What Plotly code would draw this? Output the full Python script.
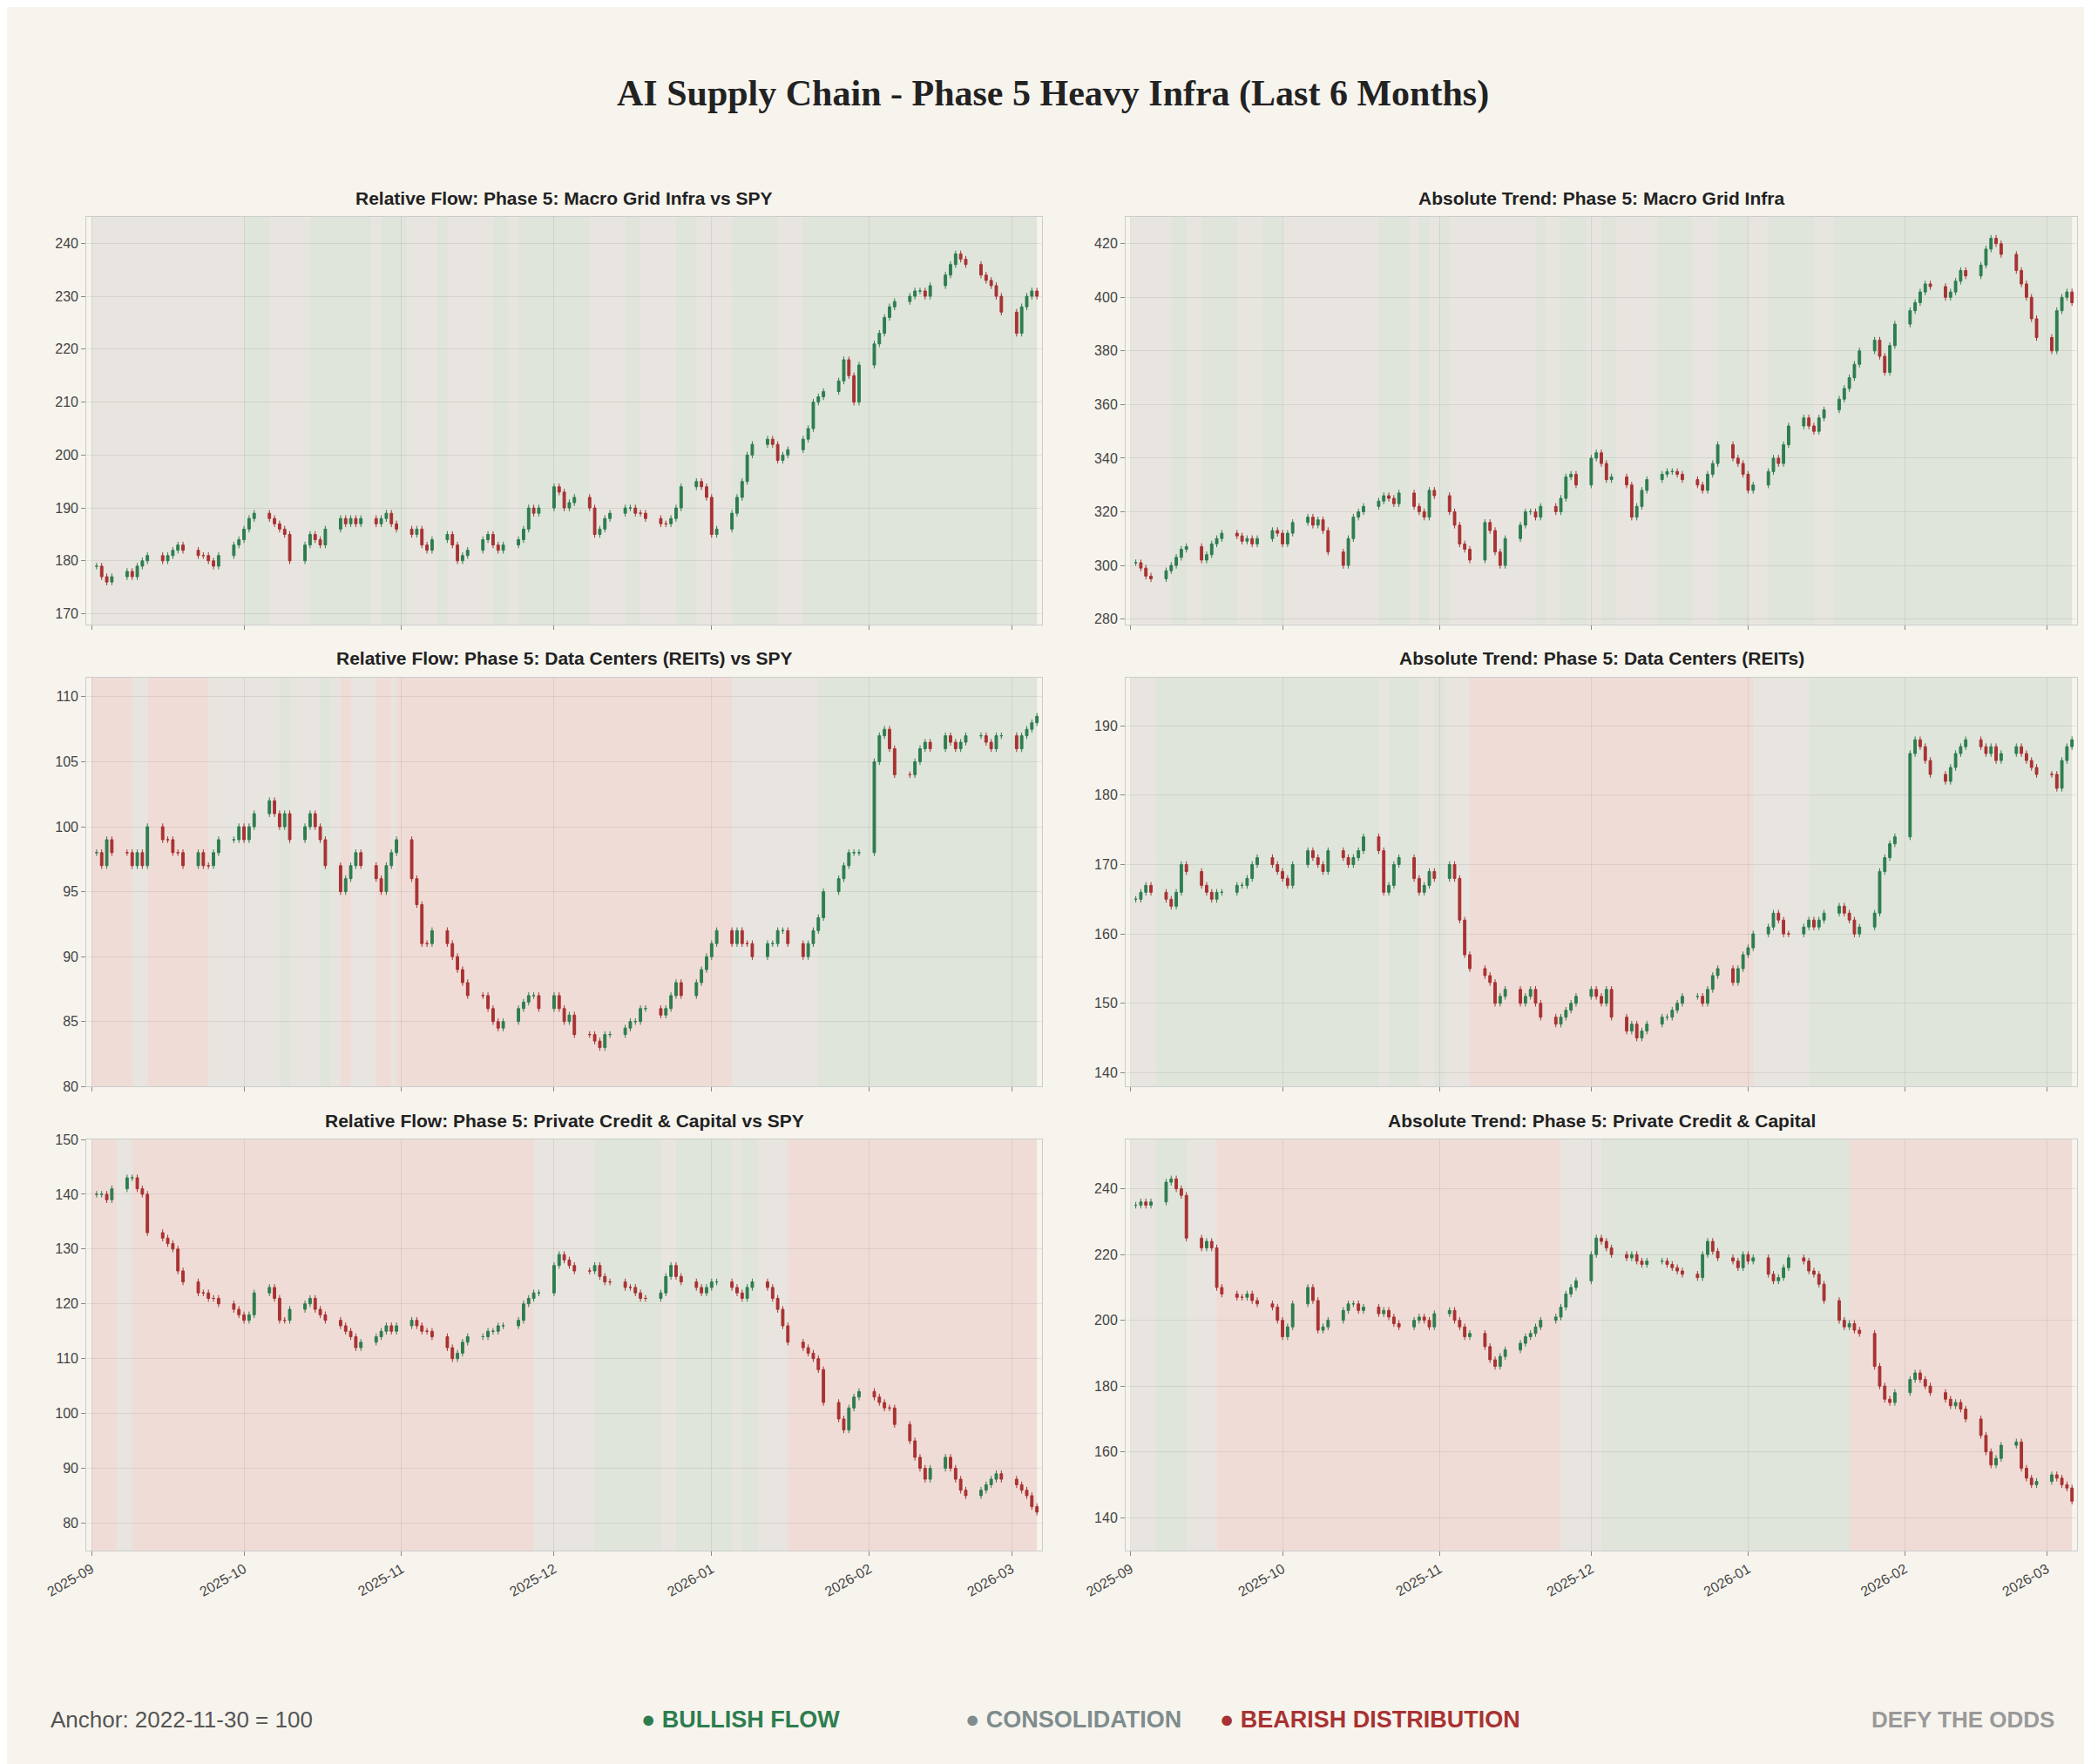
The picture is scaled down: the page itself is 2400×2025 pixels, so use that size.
import pandas as pd
import plotly.graph_objects as go

# daily closes (business days from 2025-09-02)
grid_rel = [179, 177, 176, 177, 178, 177, 179, 180, 181, 180, 181, 182, 183, 182, 181, 181, 180, 179, 181, 183, 184,
            186, 188, 189, 188, 187, 186, 185, 180, 183, 185, 184, 183, 186, 188, 187, 188, 187, 188, 187, 188, 189, 187, 186,
            185, 186, 183, 182, 184, 185, 183, 180, 181, 182, 184, 185, 183, 182, 183, 184, 186, 190, 189, 190,
            194, 193, 190, 191, 192, 190, 185, 186, 188, 189, 190, 190, 189, 189, 188, 187, 187, 188, 190, 194, 195, 194, 192,
            185, 186, 189, 192, 195, 200, 202, 203, 202, 199, 200, 201, 203, 205, 210, 211, 212, 214, 218, 215, 210, 217,
            221, 223, 226, 228, 229, 230, 231, 231, 230, 232, 234, 236, 238, 237, 236, 234, 233, 232, 230, 227,
            223, 228, 230, 231, 230]
grid_abs = [301, 299, 296, 295, 298, 300, 303, 306, 307, 302, 304, 308, 310, 312, 311, 309, 310, 308, 310, 313, 312,
            308, 312, 316, 318, 315, 317, 313, 305, 300, 310, 318, 320, 322, 324, 326, 325, 323, 327, 322, 320, 318, 328, 326,
            320, 315, 308, 306, 302, 316, 313, 305, 300, 310, 315, 320, 320, 318, 322, 320, 325, 333, 334, 330,
            340, 342, 338, 332, 333, 330, 318, 322, 328, 332, 334, 335, 335, 334, 332, 330, 328, 334, 338, 345, 340, 338, 334,
            328, 330, 335, 340, 338, 345, 352, 355, 352, 350, 355, 358, 362, 366, 370, 375, 380, 384, 378, 372, 382, 390,
            395, 398, 402, 405, 404, 400, 402, 406, 410, 408, 412, 418, 422, 420, 416, 410, 405, 400, 392, 385,
            380, 395, 400, 402, 398]
dc_rel = [98, 97, 99, 98, 98, 97, 98, 97, 100, 99, 99, 98, 98, 97, 98, 97, 97, 98, 99, 99, 100,
          99, 100, 101, 102, 101, 100, 101, 99, 100, 101, 100, 99, 97, 95, 96, 97, 98, 97, 96, 95, 97, 98, 99,
          96, 94, 91, 91, 92, 91, 90, 89, 88, 87, 87, 86, 85, 84.5, 85, 86, 86.5, 87, 87, 86,
          87, 86, 85, 85.5, 84, 84, 83.5, 83, 84, 84, 84.5, 85, 85, 86, 86, 85.5, 86, 87, 88, 87, 88, 89, 90,
          91, 92, 91, 92, 91, 91, 90, 91, 91, 92, 92, 91, 90, 91, 92, 93, 95, 96, 97, 98, 98, 98,
          105, 107, 107.5, 106, 104, 104, 105, 106, 106.5, 106, 107, 106.5, 106, 106.5, 107, 107, 106.5, 106, 107, 107,
          106, 107, 107.5, 108, 108.5]
dc_abs = [165, 166, 167, 166, 165, 164, 166, 170, 169, 167, 166, 165, 166, 166, 167, 167, 168, 170, 171, 170, 169,
          168, 167, 170, 172, 171, 170, 169, 172, 171, 170, 171, 172, 174, 172, 166, 167, 170, 171, 168, 166, 167, 169, 168,
          170, 168, 162, 157, 155, 154, 153, 150, 151, 152, 150, 151, 152, 150, 148, 147, 148, 149, 150, 151,
          152, 151, 150, 152, 148, 146, 147, 145, 146, 147, 148, 148, 149, 150, 151, 151, 150, 152, 154, 155, 153, 155, 157,
          158, 160, 161, 163, 162, 160, 160, 161, 162, 161, 162, 163, 164, 163, 162, 160, 161, 163, 169, 171, 173, 174,
          186, 188, 187, 185, 183, 182, 184, 186, 187, 188, 187, 186, 187, 185, 186, 187, 186, 185, 184, 183,
          183, 181, 185, 187, 188]
pc_rel = [140, 140, 139, 141, 143, 143, 141, 140, 133, 132, 131, 130, 126, 124, 122, 122, 121, 121, 120, 119, 118,
          117, 118, 122, 123, 121, 117, 117, 119, 120, 121, 119, 118, 117, 116, 115, 114, 112, 113, 114, 115, 116, 115, 116,
          117, 116, 115, 115, 114, 112, 110, 111, 113, 114, 114, 115, 115, 116, 116, 117, 120, 121, 122, 122,
          127, 129, 128, 127, 126, 126, 127, 125, 124, 124, 123, 123, 122, 121, 121, 122, 125, 127, 125, 124, 123, 122, 123,
          124, 124, 123, 122, 121, 123, 124, 123, 121, 119, 116, 113, 112, 111, 110, 108, 102, 99, 97, 101, 103, 104,
          103, 102, 101, 101, 98, 95, 92, 90, 88, 90, 92, 90, 88, 86, 85, 86, 87, 88, 89, 88,
          87, 86, 85, 83, 82]
pc_abs = [235, 236, 235, 236, 242, 243, 240, 238, 225, 222, 224, 222, 210, 208, 207, 207, 208, 206, 205, 204, 200,
          195, 198, 205, 210, 206, 197, 198, 200, 203, 205, 205, 203, 204, 202, 203, 201, 199, 198, 200, 201, 200, 198, 202,
          203, 200, 198, 195, 196, 192, 188, 186, 189, 191, 193, 195, 196, 198, 200, 201, 204, 208, 210, 212,
          220, 225, 224, 222, 220, 219, 220, 218, 217, 218, 218, 217, 216, 215, 214, 213, 220, 224, 221, 219, 218, 216, 220,
          218, 219, 214, 212, 213, 216, 219, 218, 215, 214, 211, 206, 200, 198, 199, 197, 196, 186, 180, 176, 175, 178,
          182, 184, 182, 180, 178, 176, 174, 175, 173, 170, 165, 160, 156, 158, 162, 163, 155, 152, 150, 151,
          153, 152, 150, 149, 145]

# regime segments: b = bullish, c = consolidation, r = bearish
reg_grid_rel = [("2025-09-01", "2025-10-01", "c"), ("2025-10-01", "2025-10-06", "b"), ("2025-10-06", "2025-10-14", "c"),
                ("2025-10-14", "2025-10-26", "b"), ("2025-10-26", "2025-10-28", "c"), ("2025-10-28", "2025-11-02", "b"),
                ("2025-11-02", "2025-11-08", "c"), ("2025-11-08", "2025-11-10", "b"), ("2025-11-10", "2025-11-19", "c"),
                ("2025-11-19", "2025-11-22", "b"), ("2025-11-22", "2025-11-24", "c"), ("2025-11-24", "2025-12-08", "b"),
                ("2025-12-08", "2025-12-15", "c"), ("2025-12-15", "2025-12-18", "b"), ("2025-12-18", "2025-12-25", "c"),
                ("2025-12-25", "2025-12-29", "b"), ("2025-12-29", "2026-01-05", "c"), ("2026-01-05", "2026-01-14", "b"),
                ("2026-01-14", "2026-01-19", "c"), ("2026-01-19", "2026-03-06", "b")]
reg_grid_abs = [("2025-09-01", "2025-09-09", "c"), ("2025-09-09", "2025-09-12", "b"), ("2025-09-12", "2025-09-15", "c"),
                ("2025-09-15", "2025-09-22", "b"), ("2025-09-22", "2025-09-27", "c"), ("2025-09-27", "2025-10-01", "b"),
                ("2025-10-01", "2025-10-20", "c"), ("2025-10-20", "2025-10-26", "b"), ("2025-10-26", "2025-10-28", "c"),
                ("2025-10-28", "2025-10-30", "b"), ("2025-10-30", "2025-11-01", "c"), ("2025-11-01", "2025-11-03", "b"),
                ("2025-11-03", "2025-11-20", "c"), ("2025-11-20", "2025-11-22", "b"), ("2025-11-22", "2025-11-25", "c"),
                ("2025-11-25", "2025-11-30", "b"), ("2025-11-30", "2025-12-03", "c"), ("2025-12-03", "2025-12-06", "b"),
                ("2025-12-06", "2025-12-14", "c"), ("2025-12-14", "2025-12-21", "b"), ("2025-12-21", "2025-12-26", "c"),
                ("2025-12-26", "2026-01-01", "b"), ("2026-01-01", "2026-01-05", "c"), ("2026-01-05", "2026-01-14", "b"),
                ("2026-01-14", "2026-01-18", "c"), ("2026-01-18", "2026-03-06", "b")]
reg_dc_rel = [("2025-09-01", "2025-09-09", "r"), ("2025-09-09", "2025-09-12", "c"), ("2025-09-12", "2025-09-24", "r"),
              ("2025-09-24", "2025-10-08", "c"), ("2025-10-08", "2025-10-10", "b"), ("2025-10-10", "2025-10-16", "c"),
              ("2025-10-16", "2025-10-18", "b"), ("2025-10-18", "2025-10-20", "c"), ("2025-10-20", "2025-10-22", "r"),
              ("2025-10-22", "2025-10-27", "c"), ("2025-10-27", "2025-10-30", "r"), ("2025-10-30", "2025-10-31", "c"),
              ("2025-10-31", "2026-01-05", "r"), ("2026-01-05", "2026-01-22", "c"), ("2026-01-22", "2026-03-06", "b")]
reg_dc_abs = [("2025-09-01", "2025-09-06", "c"), ("2025-09-06", "2025-10-20", "b"), ("2025-10-20", "2025-10-22", "c"),
              ("2025-10-22", "2025-10-28", "b"), ("2025-10-28", "2025-10-31", "c"), ("2025-10-31", "2025-11-02", "b"),
              ("2025-11-02", "2025-11-07", "c"), ("2025-11-07", "2026-01-02", "r"), ("2026-01-02", "2026-01-13", "c"),
              ("2026-01-13", "2026-03-06", "b")]
reg_pc_rel = [("2025-09-01", "2025-09-06", "r"), ("2025-09-06", "2025-09-09", "c"), ("2025-09-09", "2025-11-27", "r"),
              ("2025-11-27", "2025-12-09", "c"), ("2025-12-09", "2025-12-22", "b"), ("2025-12-22", "2025-12-25", "c"),
              ("2025-12-25", "2026-01-05", "b"), ("2026-01-05", "2026-01-07", "c"), ("2026-01-07", "2026-01-10", "b"),
              ("2026-01-10", "2026-01-16", "c"), ("2026-01-16", "2026-03-06", "r")]
reg_pc_abs = [("2025-09-01", "2025-09-06", "c"), ("2025-09-06", "2025-09-12", "b"), ("2025-09-12", "2025-09-18", "c"),
              ("2025-09-18", "2025-11-25", "r"), ("2025-11-25", "2025-12-03", "c"), ("2025-12-03", "2026-01-21", "b"),
              ("2026-01-21", "2026-03-06", "r")]

panels = [
    ("Relative Flow: Phase 5: Macro Grid Infra vs SPY", grid_rel, reg_grid_rel, [168, 245]),
    ("Absolute Trend: Phase 5: Macro Grid Infra", grid_abs, reg_grid_abs, [278, 430]),
    ("Relative Flow: Phase 5: Data Centers (REITs) vs SPY", dc_rel, reg_dc_rel, [80, 111.5]),
    ("Absolute Trend: Phase 5: Data Centers (REITs)", dc_abs, reg_dc_abs, [138, 197]),
    ("Relative Flow: Phase 5: Private Credit & Capital vs SPY", pc_rel, reg_pc_rel, [75, 150]),
    ("Absolute Trend: Phase 5: Private Credit & Capital", pc_abs, reg_pc_abs, [130, 255]),
]

BG = "#f7f4ee"
GREEN = "#2e7d4f"
RED = "#a83232"
REG_COL = {"b": "rgba(46,125,79,0.12)", "c": "rgba(120,120,120,0.12)", "r": "rgba(190,50,40,0.12)"}
XD = [[0.038, 0.495], [0.535, 0.990]]
YD = [[0.650, 0.881], [0.388, 0.620], [0.125, 0.358]]
TICKS = ["2025-09-01", "2025-10-01", "2025-11-01", "2025-12-01", "2026-01-01", "2026-02-01", "2026-03-01"]

fig = go.Figure()
shapes, annotations = [], []
for i, (title, closes, regimes, yr) in enumerate(panels):
    row, col = divmod(i, 2)
    n = i + 1
    xa = "x" if n == 1 else f"x{n}"
    ya = "y" if n == 1 else f"y{n}"
    dates = pd.bdate_range("2025-09-02", periods=len(closes))
    opens = [closes[0]] + closes[:-1]
    span = yr[1] - yr[0]
    highs = [max(o, c) + span * 0.008 for o, c in zip(opens, closes)]
    lows = [min(o, c) - span * 0.008 for o, c in zip(opens, closes)]
    fig.add_trace(go.Candlestick(
        x=dates, open=opens, high=highs, low=lows, close=closes, xaxis=xa, yaxis=ya,
        increasing=dict(line=dict(color=GREEN, width=1), fillcolor=GREEN),
        decreasing=dict(line=dict(color=RED, width=1), fillcolor=RED),
        showlegend=False, whiskerwidth=0))
    for s, e, r in regimes:
        shapes.append(dict(type="rect", xref=xa, yref=f"{ya} domain", x0=s, x1=e, y0=0, y1=1,
                           fillcolor=REG_COL[r], line_width=0, layer="below"))
    key = "" if n == 1 else str(n)
    fig.layout["xaxis" + key] = dict(
        domain=XD[col], anchor=ya, range=["2025-08-31", "2026-03-07"], rangeslider=dict(visible=False),
        tickvals=TICKS, ticktext=[t[:7] for t in TICKS] if row == 2 else [""] * len(TICKS),
        tickangle=-30, ticks="outside", ticklen=5, tickcolor="#888", automargin=False,
        showgrid=True, gridcolor="rgba(0,0,0,0.07)", showline=True, linecolor="#ccc", mirror=True,
        tickfont=dict(size=16, color="#444"))
    fig.layout["yaxis" + key] = dict(
        domain=YD[row], anchor=xa, range=yr, showgrid=True, gridcolor="rgba(0,0,0,0.07)", automargin=False,
        showline=True, linecolor="#ccc", mirror=True, ticks="outside", ticklen=5, tickcolor="#888",
        tickfont=dict(size=16, color="#444"))
    annotations.append(dict(text=f"<b>{title}</b>", xref="paper", yref="paper",
                            x=sum(XD[col]) / 2, y=YD[row][1] + 0.004, xanchor="center", yanchor="bottom",
                            showarrow=False, font=dict(size=21, color="#222", family="Liberation Sans, Arial")))

annotations += [
    dict(text="Anchor: 2022-11-30 = 100", x=0.02, y=0.029, xanchor="left", font=dict(size=26, color="#555")),
    dict(text="<b>● BULLISH FLOW</b>", x=0.351, y=0.029, xanchor="center", font=dict(size=27, color=GREEN)),
    dict(text="<b>● CONSOLIDATION</b>", x=0.51, y=0.029, xanchor="center", font=dict(size=27, color="#7f8c8d")),
    dict(text="<b>● BEARISH DISTRIBUTION</b>", x=0.652, y=0.029, xanchor="center", font=dict(size=27, color=RED)),
    dict(text="<b>DEFY THE ODDS</b>", x=0.98, y=0.029, xanchor="right", font=dict(size=26, color="#999")),
    dict(text="<b>AI Supply Chain - Phase 5 Heavy Infra (Last 6 Months)</b>", x=0.5, y=0.951, xanchor="center",
         font=dict(size=42, color="#222", family="Liberation Serif, Times New Roman")),
]
for a in annotations[-6:]:
    a.update(xref="paper", yref="paper", yanchor="middle", showarrow=False)
    a["font"].setdefault("family", "Liberation Sans, Arial")

fig.update_layout(width=2400, height=2025, paper_bgcolor=BG, plot_bgcolor=BG,
                  margin=dict(l=0, r=0, t=0, b=0, autoexpand=False), shapes=shapes, annotations=annotations,
                  font=dict(family="Liberation Sans, Arial"))
fig.write_html("out.html")
